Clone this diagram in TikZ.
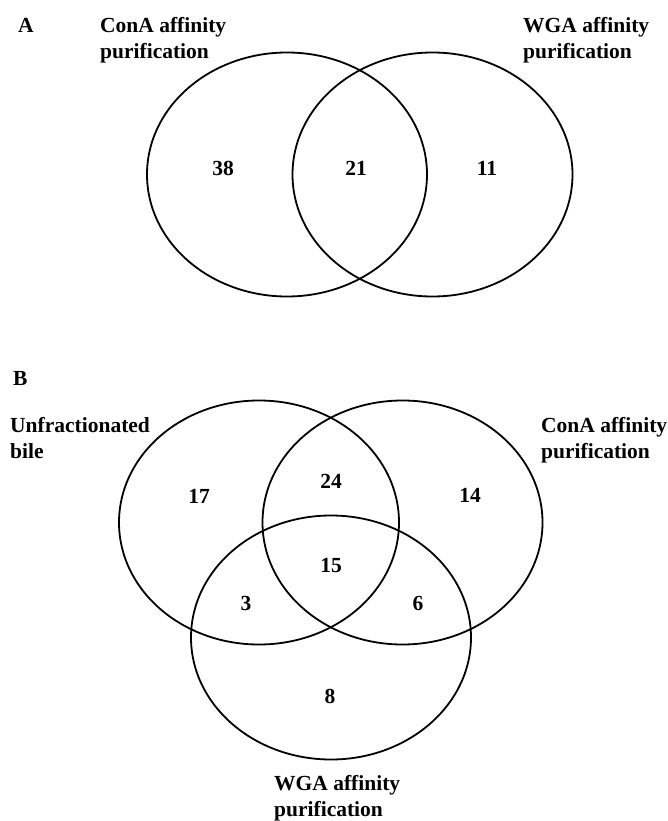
\documentclass[tikz,border=0pt]{standalone}
\usepackage{fontspec}
\setmainfont{Liberation Serif}
\usetikzlibrary{shapes.geometric}
\newcommand{\vennfont}{\fontsize{21.5}{26}\selectfont\bfseries}

\begin{document}
\begin{tikzpicture}
[x=1pt,y=-1pt,%
  setDecorate/.style={shape=ellipse,draw,line width=1.8pt,inner sep=0pt,%
    minimum width=280pt,minimum height=244pt},%
  countDecorate/.style={inner sep=0pt,font=\vennfont},%
  labelDecorate/.style={anchor=base west,align=left,inner sep=0pt,font=\vennfont}]
\useasboundingbox (0,0) rectangle (668,821);
%% sets or ellipses
\foreach \setname/\x/\y in {conA/287/174.5, wgaA/432.5/174.5,
  bileB/259/522.5, conB/402.5/522.5, wgaB/331/637.5}
{
  \node (\setname) at (\x,\y) [setDecorate] {};
}
%% counts
\foreach \countname/\x/\y/\n in {cA/223/168/38, cwA/356/168/21, wA/487/168/11,
  bB/199/496/17, bcB/331/481/24, cB/470/495/14, bcwB/331/566/15,
  bwB/246/603/3, cwB/418/603/6, wB/330/696/8}
{
  \node (\countname) at (\x,\y) [countDecorate] {\n};
}
%% labels (base = last line)
\foreach \labelname/\x/\y/\txt in {panelA/18/33/A, panelB/13/385/B,
  conAlab/100/59/{ConA affinity\\purification},
  wgaAlab/523/59/{WGA affinity\\purification},
  bileBlab/10/458/{Unfractionated\\bile},
  conBlab/541/458/{ConA affinity\\purification},
  wgaBlab/274/816/{WGA affinity\\purification}}
{
  \node (\labelname) at (\x,\y) [labelDecorate] {\txt};
}
\end{tikzpicture}
\end{document}
